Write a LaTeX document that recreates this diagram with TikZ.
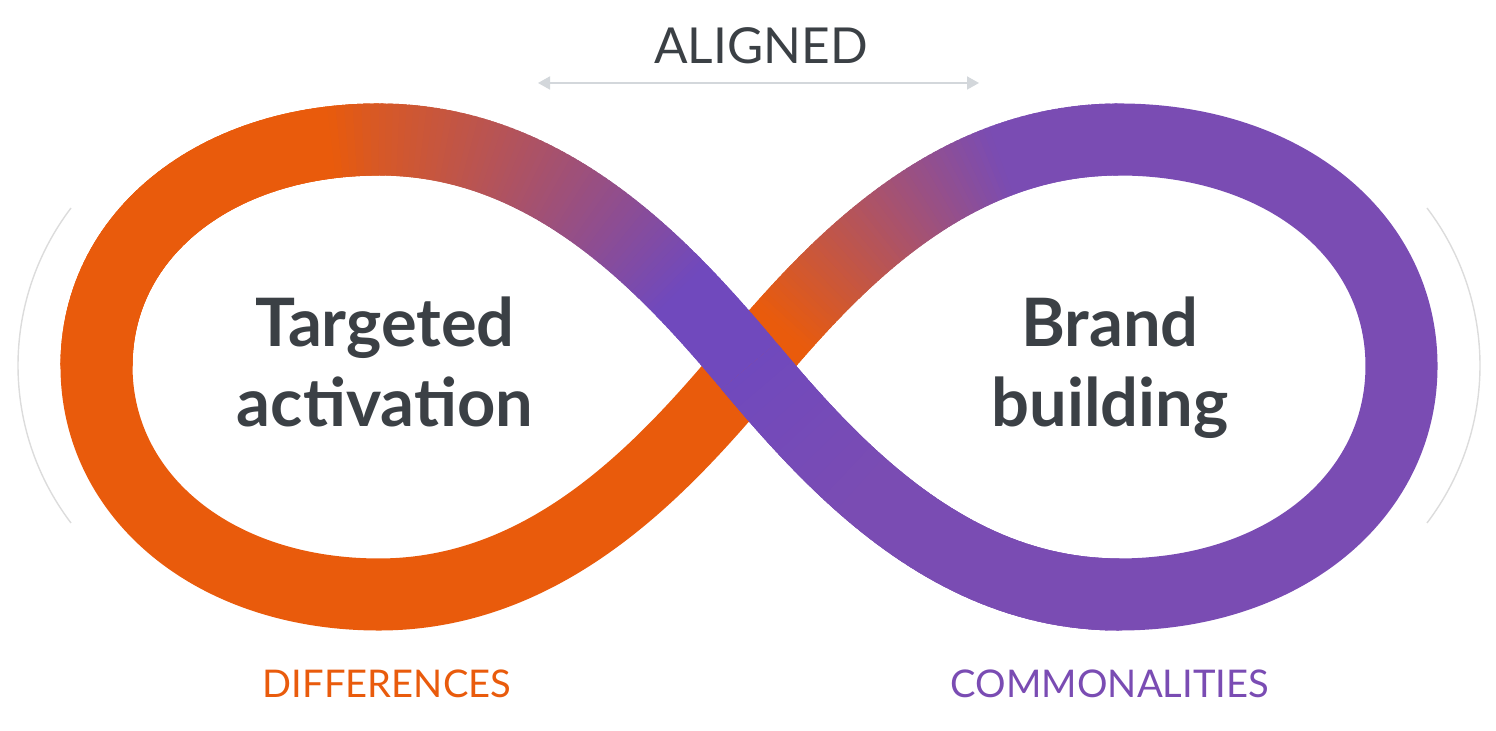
\documentclass[tikz,border=0pt]{standalone}
\usepackage{fontspec}
\setmainfont{Lato}
\usetikzlibrary{arrows.meta}

\definecolor{orng}{HTML}{E95B0C}
\definecolor{purp}{HTML}{7A4CB3}
\definecolor{violet}{HTML}{7049BD}
\definecolor{txtgrey}{HTML}{3B4045}
\definecolor{arcgrey}{HTML}{DCDCDC}
\definecolor{arrowgrey}{HTML}{D3D7DB}

\tikzset{
  band/.style={line width=0.72cm},
  bigtext/.style={font=\fontsize{19}{23}\selectfont\bfseries, text=txtgrey, align=center, inner sep=0pt},
  captext/.style={font=\fontsize{10.85}{13}\selectfont, inner sep=0pt, anchor=base},
}

% one curve of the band, cut in slices that go from #8 to #9
\newcommand\gradpart[9]{%
  \foreach \i in {1,...,#7}{%
    \pgfmathsetmacro\tfrom{(\i-1)/#7}%
    \pgfmathsetmacro\tto{min(1,(\i+0.8)/#7)}%
    \pgfmathsetmacro\pct{max(0,min(100,#5+#6*(\i-0.5)/#7))}%
    \colorlet{partcol}{#8!\pct!#9}%
    \begin{pgfscope}
      \pgfsetlinewidth{0.72cm}%
      \pgfsetstrokecolor{partcol}%
      \pgfpathcurvebetweentime{\tfrom}{\tto}{\pgfpointanchor{#1}{center}}{\pgfpointanchor{#2}{center}}{\pgfpointanchor{#3}{center}}{\pgfpointanchor{#4}{center}}%
      \pgfusepath{stroke}%
    \end{pgfscope}
  }%
}

\begin{document}
\begin{tikzpicture}[x=0.01cm,y=-0.01cm]
    \useasboundingbox (0,0) rectangle (1496,731);

    \coordinate (mid) at (749,366);
    \coordinate (ltop) at (379,139.5);
    \coordinate (lleft) at (96.5,366);
    \coordinate (lbot) at (379,594.5);
    \coordinate (lctla) at (665.4,266.4);
    \coordinate (lctlb) at (549,139.5);
    \coordinate (lctlc) at (215.2,139.5);
    \coordinate (lctld) at (96.5,234.6);
    \coordinate (rtop) at (1119,139.5);
    \coordinate (rright) at (1401.5,366);
    \coordinate (rbot) at (1119,594.5);
    \coordinate (rctla) at (832.6,266.4);
    \coordinate (rctlb) at (949,139.5);
    \coordinate (rctlc) at (949,594.5);
    \coordinate (rctld) at (832.6,465.6);

    % side arcs
    \coordinate (larc) at (71,208);
    \coordinate (rarc) at (1427,208);
    \draw[arcgrey, line width=0.4pt] (larc) arc[start angle=217.2, end angle=142.8, radius=260.5];
    \draw[arcgrey, line width=0.4pt] (rarc) arc[start angle=-37.2, end angle=37.2, radius=260.5];

    % orange line, left loop
    \draw[band, orng] (ltop) .. controls (lctlc) and (lctld) .. (lleft)
        .. controls (96.5,497.4) and (215.2,594.5) .. (lbot)
        .. controls (549,594.5) and (665.4,465.6) .. (mid);
    \gradpart{ltop}{lctlc}{lctld}{lleft}{85}{150}{60}{orng}{violet}
    % under the crossing, orange to purple
    \gradpart{mid}{rctla}{rctlb}{rtop}{120}{-160}{80}{orng}{purp}

    % purple line, right loop
    \draw[band, purp] (rtop) .. controls (1282.8,139.5) and (1401.5,234.6) .. (rright)
        .. controls (1401.5,497.4) and (1282.8,594.5) .. (rbot)
        .. controls (rctlc) and (rctld) .. (mid);
    \gradpart{rbot}{rctlc}{rctld}{mid}{-150}{250}{50}{violet}{purp}
    % over the crossing, purple to orange
    \gradpart{mid}{lctla}{lctlb}{ltop}{-28}{113}{80}{orng}{violet}

    % aligned
    \node[font=\fontsize{14.1}{16}\selectfont, text=txtgrey, inner sep=0pt, anchor=base] (aligned) at (761,63.3) {ALIGNED};
    \coordinate (alignl) at (538,83);
    \coordinate (alignr) at (979,83);
    \draw[arrowgrey, line width=0.5pt, {Triangle[length=0.12cm,width=0.13cm]}-{Triangle[length=0.12cm,width=0.13cm]}] (alignl) -- (alignr);

    \node[bigtext, anchor=base] (targeted) at (385,427) {Targeted\\activation};
    \node[bigtext, anchor=base] (brand) at (1110,427) {Brand\\building};

    \node[captext, text=orng] (diff) at (387,698) {DIFFERENCES};
    \node[captext, text=purp] (common) at (1110,698) {COMMONALITIES};
\end{tikzpicture}
\end{document}
